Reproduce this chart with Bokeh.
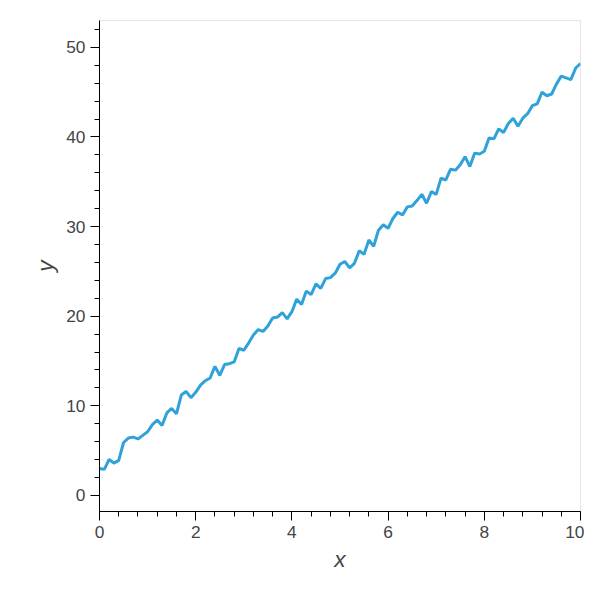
from bokeh.plotting import figure
from bokeh.models import Range1d
from bokeh.embed import file_html
from bokeh.resources import INLINE

xs = [i / 10 for i in range(101)]
ys = [3.0, 2.9, 4.0, 3.6, 3.9, 5.9, 6.4, 6.5, 6.3, 6.7,
      7.1, 7.9, 8.4, 7.8, 9.2, 9.7, 9.1, 11.2, 11.6, 10.9,
      11.5, 12.3, 12.8, 13.1, 14.4, 13.4, 14.6, 14.7, 14.9, 16.4,
      16.2, 17.0, 17.9, 18.5, 18.3, 18.9, 19.8, 19.9, 20.4, 19.7,
      20.5, 21.9, 21.3, 22.8, 22.4, 23.6, 23.1, 24.2, 24.3, 24.8,
      25.8, 26.1, 25.4, 25.9, 27.3, 26.9, 28.5, 27.8, 29.6, 30.2,
      29.8, 30.9, 31.6, 31.3, 32.2, 32.3, 32.9, 33.6, 32.6, 33.9,
      33.6, 35.4, 35.2, 36.4, 36.3, 36.9, 37.8, 36.7, 38.2, 38.1,
      38.4, 39.9, 39.8, 40.9, 40.5, 41.5, 42.1, 41.2, 42.1, 42.6,
      43.5, 43.7, 45.0, 44.6, 44.8, 45.9, 46.8, 46.6, 46.4, 47.7,
      48.2]

p = figure(width=584, height=584, output_backend="svg", toolbar_location=None,
           x_range=Range1d(0, 10), y_range=Range1d(-1.8, 53.0),
           x_axis_label="x", y_axis_label="y",
           min_border_left=99, min_border_top=20, min_border_right=4,
           min_border_bottom=73)
p.line(xs, ys, line_color="#30a2da", line_width=3)

p.xgrid.visible = p.ygrid.visible = False
p.outline_line_color = "#e5e5e5"
for ax in (p.xaxis, p.yaxis):
    ax.axis_label_text_font_style = "italic"
    ax.axis_label_text_font_size = "17pt"
    ax.axis_label_text_color = "#444444"
    ax.major_label_text_font_size = "13pt"
    ax.major_label_text_color = "#444444"
    ax.major_label_text_font = "Liberation Sans"
    ax.axis_label_text_font = "Liberation Sans"
    ax.major_tick_out = 9
    ax.major_tick_in = 0
    ax.minor_tick_out = 5
    ax.minor_tick_in = 0
    ax.axis_line_color = "black"
    ax.major_tick_line_color = "black"
    ax.minor_tick_line_color = "black"
p.yaxis.major_label_orientation = "horizontal"

open("out.html", "w").write(file_html(p, INLINE))
